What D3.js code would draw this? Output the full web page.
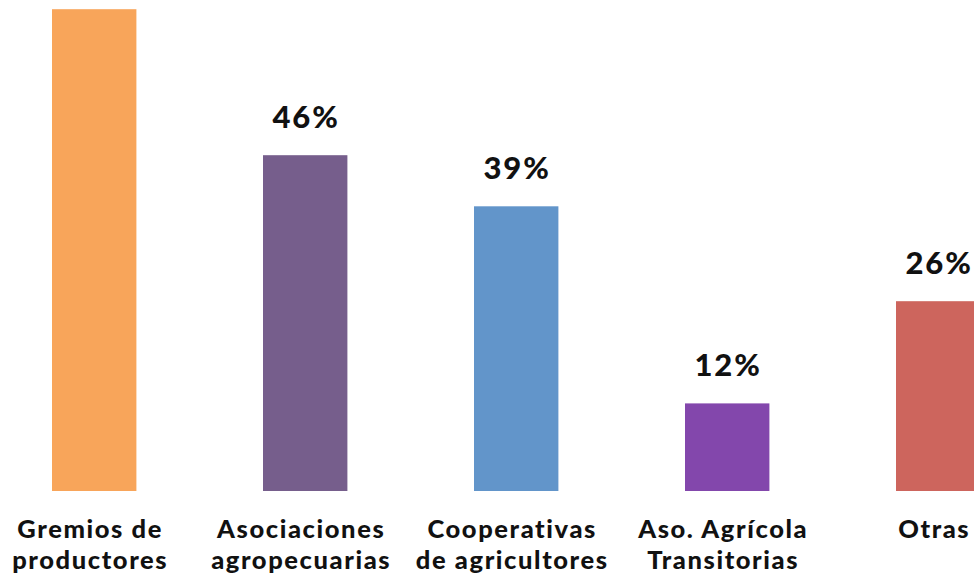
<!DOCTYPE html>
<html>
<head>
<meta charset="utf-8">
<script src="https://cdn.jsdelivr.net/npm/d3@7"></script>
<style>
  html, body { margin: 0; padding: 0; background: #fff; overflow: hidden; }
  svg { display: block; }
  .value { font-family: Lato, "Open Sans", sans-serif; font-weight: 900; font-size: 31px; letter-spacing: 2px; fill: #111; }
  .cat { font-family: Lato, "Open Sans", sans-serif; font-weight: 900; font-size: 25.5px; letter-spacing: 1.6px; fill: #111; }
</style>
</head>
<body>
<div id="chart"></div>
<script>
// data
var categories = ["Gremios de productores", "Asociaciones agropecuarias", "Cooperativas de agricultores", "Aso. Agrícola Transitorias", "Otras"];
var catLines = [["Gremios de", "productores"], ["Asociaciones", "agropecuarias"], ["Cooperativas", "de agricultores"], ["Aso. Agrícola", "Transitorias"], ["Otras"]];
var values = [66, 46, 39, 12, 26];
var colors = ["#F8A55A", "#765E8C", "#6295CA", "#8347AC", "#CD655D"];

var width = 974, height = 578;
var baseline = 491;

var svg = d3.select("#chart").append("svg")
    .attr("width", width)
    .attr("height", height);

// x scale: bands of 211px, bars ~84px wide
var x = d3.scaleBand()
    .domain(categories)
    .range([-11.3, 1043.7])
    .paddingInner(0.6)
    .paddingOuter(0.3);

var y = d3.scaleLinear()
    .domain([0, 100])
    .range([baseline, baseline - 730]);

// bars
svg.selectAll("rect.bar")
    .data(values)
    .enter()
  .append("rect")
    .attr("class", "bar")
    .attr("x", function(d, i) { return x(categories[i]); })
    .attr("y", function(d) { return y(d); })
    .attr("width", x.bandwidth())
    .attr("height", function(d) { return y(0) - y(d); })
    .attr("fill", function(d, i) { return colors[i]; });

// value labels (the first one falls above the frame, as in the original)
svg.selectAll("text.value")
    .data(values.filter(function(d) { return y(d) - 27 > 25; }))
    .enter()
  .append("text")
    .attr("class", "value")
    .attr("x", function(d) { var i = values.indexOf(d); return x(categories[i]) + x.bandwidth() / 2 + 1; })
    .attr("y", function(d) { return y(d) - 27; })
    .attr("text-anchor", "middle")
    .text(function(d) { return d + "%"; });

// category labels, one text per line
categories.forEach(function(c, i) {
    svg.selectAll(null)
        .data(catLines[i])
        .enter()
      .append("text")
        .attr("class", "cat")
        .attr("x", x(c) + x.bandwidth() / 2 - 4)
        .attr("y", function(d, j) { return 538 + j * 31; })
        .attr("text-anchor", "middle")
        .text(function(d) { return d; });
});
</script>
</body>
</html>
